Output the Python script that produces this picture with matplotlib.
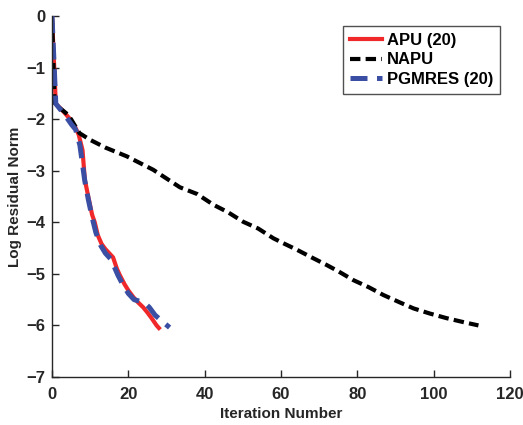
import matplotlib
matplotlib.use("Agg")
import matplotlib.pyplot as plt

# values
apu_x = [0, 1, 3, 5, 6, 7, 8, 8.6, 9.5, 10.5, 11.2, 12, 13, 14, 15, 16, 17, 17.8, 19, 20, 21.3, 22.5, 23.9, 25, 26, 27.4, 28]
apu_y = [0, -1.7, -1.85, -2.02, -2.14, -2.3, -2.6, -3.17, -3.5, -3.85, -4.0, -4.25, -4.42, -4.52, -4.6, -4.68, -4.9, -5.03, -5.2, -5.32, -5.45, -5.55, -5.65, -5.75, -5.85, -6.0, -6.05]

napu_x = [0, 0.7, 2, 4, 5, 7.2, 10, 14, 19.6, 26.5, 33.5, 38, 42.3, 46, 50.1, 54, 58, 61, 64.1, 68, 72, 75, 78.9, 83, 86.8, 91, 94.7, 99, 103.4, 108, 111.7]
napu_y = [0, -1.72, -1.78, -1.9, -2.0, -2.27, -2.4, -2.55, -2.72, -2.98, -3.32, -3.45, -3.66, -3.8, -3.99, -4.12, -4.31, -4.42, -4.53, -4.68, -4.83, -4.95, -5.12, -5.26, -5.41, -5.55, -5.67, -5.77, -5.86, -5.94, -6.0]

pgmres_x = [0, 1, 3.4, 5.1, 6.2, 7.3, 8.6, 9.5, 10.5, 11.5, 12.7, 14, 15.5, 17.3, 18.5, 20, 21.5, 23, 24.5, 25.5, 27, 29, 30.8]
pgmres_y = [0, -1.7, -1.92, -2.1, -2.2, -2.5, -3.2, -3.55, -3.9, -4.2, -4.44, -4.6, -4.72, -5.03, -5.2, -5.38, -5.5, -5.53, -5.58, -5.65, -5.8, -5.93, -6.04]

xticks = [0, 20, 40, 60, 80, 100, 120]
yticks = [0, -1, -2, -3, -4, -5, -6, -7]

plt.rcParams['font.family'] = ['Liberation Sans', 'DejaVu Sans']
plt.rcParams['font.weight'] = 'bold'

fig = plt.figure(figsize=(5.23, 4.25), dpi=100)
ax = fig.add_axes([0.0994, 0.113, 0.876, 0.849])

ax.plot(apu_x, apu_y, color='#f0282a', lw=3.0, label='APU (20)')
ax.plot(napu_x, napu_y, color='black', lw=3.0, dashes=(2.5, 1.25), label='NAPU')
ax.plot(pgmres_x, pgmres_y, color='#3a4ea3', lw=3.6, dashes=(3.4, 1.9), label='PGMRES (20)')

ax.set_xlim(0, 120)
ax.set_ylim(-7, 0)
ax.set_xticks(xticks)
ax.set_yticks(yticks)
ax.tick_params(direction='in', length=5, width=1, labelsize=12, colors='#262626')
ax.tick_params(axis='x', pad=7)
ax.tick_params(axis='y', pad=5)
for lab in ax.get_xticklabels() + ax.get_yticklabels():
    lab.set_fontweight('bold')
for side in ['top', 'right']:
    ax.spines[side].set_visible(False)
for side in ['left', 'bottom']:
    ax.spines[side].set_color('#262626')
    ax.spines[side].set_linewidth(1.0)

ax.set_xlabel('Iteration Number', fontsize=11, fontweight='bold', labelpad=4, color='#262626')
ax.set_ylabel('Log Residual Norm', fontsize=11, fontweight='bold', labelpad=3, color='#262626')

leg = ax.legend(loc='upper right', bbox_to_anchor=(0.977, 0.972), fontsize=12,
                frameon=True, fancybox=False, edgecolor='#262626', handlelength=1.9,
                handletextpad=0.3, borderpad=0.4, labelspacing=0.27, borderaxespad=0.0)
leg.get_frame().set_linewidth(1.0)
for t in leg.get_texts():
    t.set_fontweight('bold')

fig.savefig('out.png', dpi=100)
